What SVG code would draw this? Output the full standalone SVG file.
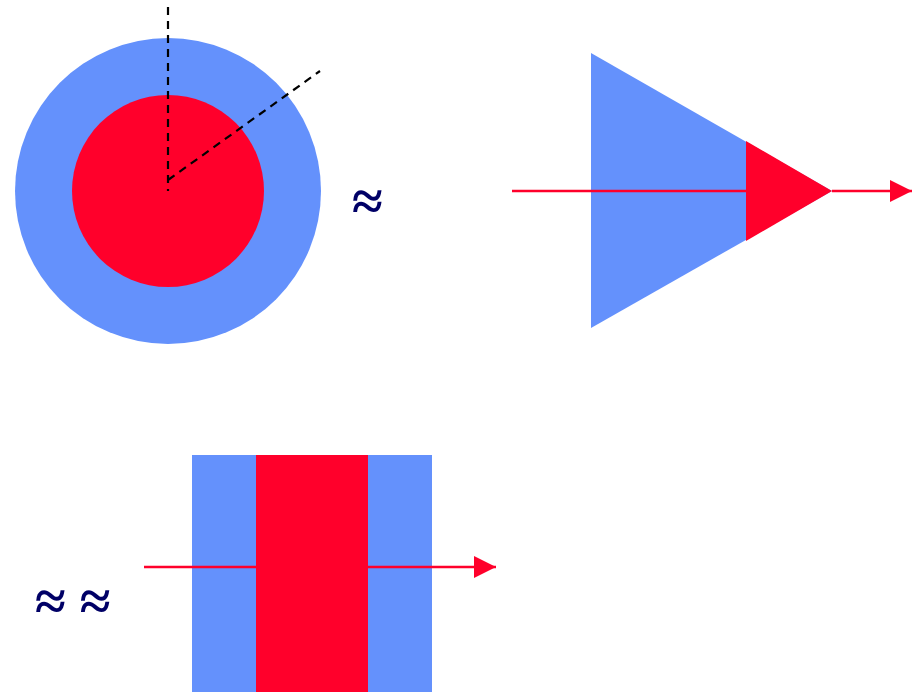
<svg xmlns="http://www.w3.org/2000/svg" width="914" height="692" viewBox="0 0 914 692">
<defs>
<style>
.blue{fill:#6491fc}
.red{fill:#ff002b}
.ray{stroke:#ff002b;stroke-width:2.5;fill:none}
.dash{stroke:#000;stroke-width:2.2;stroke-dasharray:8,6;fill:none}
.sym{font-family:"Liberation Serif","DejaVu Serif",serif;font-weight:bold;font-size:56px;fill:#000066}
</style>
<marker id="ah" markerWidth="22" markerHeight="22" viewBox="0 0 22 22" refX="22" refY="11" orient="auto" markerUnits="userSpaceOnUse">
<path d="M0,0 L22,11 L0,22 Z" fill="#ff002b"/>
</marker>
</defs>
<rect width="914" height="692" fill="#fff"/>
<g id="circle">
<circle cx="168" cy="191" r="153" class="blue"/>
<circle cx="168" cy="191" r="96" class="red"/>
</g>
<g id="triangle">
<polygon points="591,53 832,191 591,328" class="blue"/>
<polygon points="746,141 832,191 746,241" class="red"/>
</g>
<g id="slab">
<rect x="192" y="455" width="240" height="237" class="blue"/>
<rect x="256" y="455" width="112" height="237" class="red"/>
</g>
<g id="connectors">
<path d="M168,7 V191 M168,180 L320,71" class="dash"/>
<path d="M512,191 H746" class="ray"/>
<path d="M832,191 H912" class="ray" marker-end="url(#ah)"/>
<path d="M144,567 H256" class="ray"/>
<path d="M368,567 H496" class="ray" marker-end="url(#ah)"/>
</g>
<g id="labels">
<text x="352" y="220" class="sym">≈</text>
<text x="35" y="620" class="sym">≈ ≈</text>
</g>
</svg>
